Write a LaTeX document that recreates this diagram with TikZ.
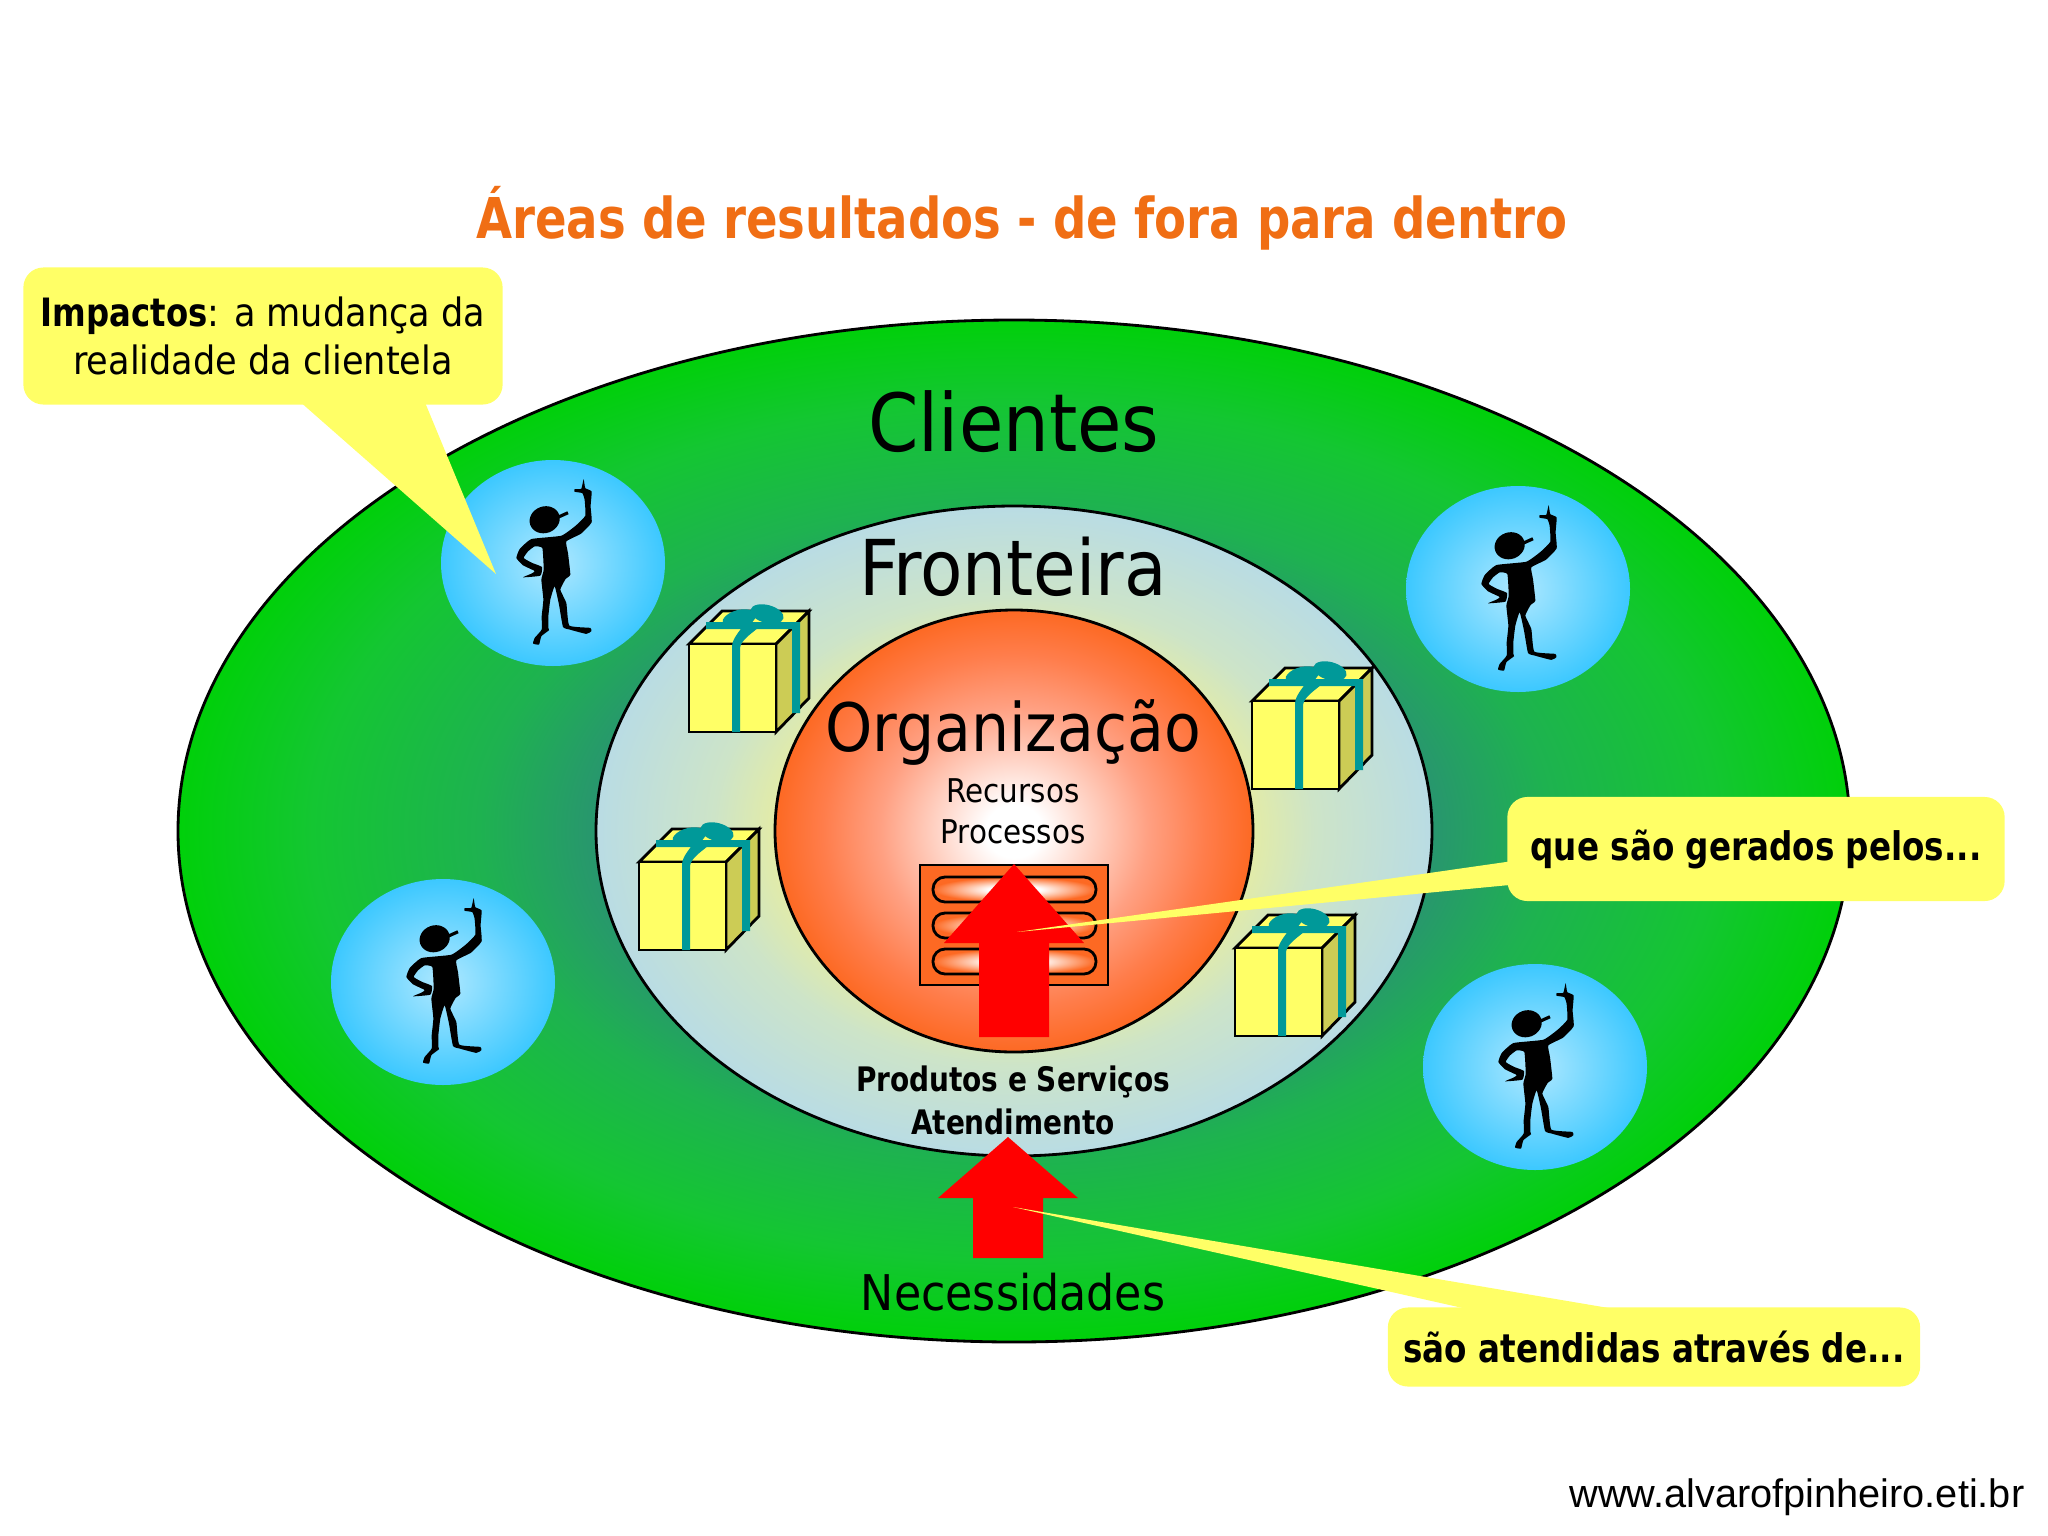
\documentclass[tikz,border=0pt]{standalone}
\usepackage{fontspec}
\setmainfont[BoldFeatures={FakeStretch=0.92}]{DejaVu Sans Condensed}
\newfontfamily\urlfont{Liberation Sans}
\usepackage{xcolor}
\usetikzlibrary{positioning,calc,shapes.geometric}

\definecolor{verdeA}{RGB}{40,150,110}
\definecolor{verdeB}{RGB}{30,178,80}
\definecolor{verdeC}{RGB}{20,198,50}
\definecolor{verdeD}{RGB}{0,208,10}
\definecolor{claroA}{RGB}{255,250,170}
\definecolor{claroB}{RGB}{228,236,165}
\definecolor{claroC}{RGB}{205,228,200}
\definecolor{claroD}{RGB}{185,220,228}
\definecolor{laranja}{RGB}{253,105,35}
\definecolor{laranjaB}{RGB}{255,125,75}
\definecolor{salmao}{RGB}{255,160,130}
\definecolor{azulA}{RGB}{175,232,255}
\definecolor{azulB}{RGB}{60,200,255}
\definecolor{amarelo}{RGB}{255,255,102}
\definecolor{lateral}{RGB}{204,204,85}
\definecolor{fita}{RGB}{0,153,153}
\definecolor{titulo}{RGB}{240,110,20}

\pgfdeclareradialshading{campo}{\pgfpoint{0bp}{0bp}}{color(0bp)=(verdeA); color(12.5bp)=(verdeA); color(16bp)=(verdeB); color(21bp)=(verdeC); color(25bp)=(verdeD); color(50bp)=(verdeD)}
\pgfdeclareradialshading{borda}{\pgfpoint{0bp}{0bp}}{color(0bp)=(claroA); color(14bp)=(claroB); color(18bp)=(claroC); color(25bp)=(claroD); color(50bp)=(claroD)}
\pgfdeclareradialshading{brasa}{\pgfpoint{0bp}{0bp}}{color(0bp)=(white); color(3bp)=(white); color(14bp)=(salmao); color(20bp)=(laranjaB); color(25bp)=(laranja); color(50bp)=(laranja)}
\pgfdeclareradialshading{faixa}{\pgfpoint{0bp}{0bp}}{color(0bp)=(white); color(8bp)=(white); color(25bp)=(laranja); color(50bp)=(laranja)}
\pgfdeclareradialshading{bolha}{\pgfpoint{0bp}{0bp}}{color(0bp)=(azulA); color(25bp)=(azulB); color(50bp)=(azulB)}

\begin{document}
\begin{tikzpicture}[x=0.01cm, y=-0.01cm,
	campoTxt/.style={font=\fontsize{22.8}{27}\selectfont, inner sep=0pt},
	subTxt/.style={font=\fontsize{9.3}{12}\selectfont, inner sep=0pt},
	negTxt/.style={font=\fontsize{9.6}{12}\selectfont\bfseries, inner sep=0pt},
	balao/.style={fill=amarelo, rounded corners=0.2cm, inner sep=0pt, align=center, font=\fontsize{11.1}{13.7}\selectfont},
	seta/.style={fill=red}]
	\useasboundingbox (0,0) rectangle (2048,1536);
	
	% Elipses
	\path[draw=black, thick, shading=campo] (1014,831) ellipse (836 and 511);
	\path[draw=black, thick, shading=borda] (1014,831) ellipse (418 and 325);
	\path[draw=black, thick, shading=brasa] (1014,831) ellipse (239 and 221);
	
	% --- CLIENTES ---
	\foreach \cx/\cy in {553/563, 1518/589, 443/982, 1535/1067} {
		\path[shading=bolha] (\cx,\cy) ellipse (112 and 103);
		\begin{scope}[shift={(\cx,\cy)}, x=0.00333cm, y=-0.00333cm, shift={(-400,-340)}]
			\fill[rotate around={20:(375,210)}] (375,210) ellipse (46 and 40);
			\draw[line width=0.9pt] (405,207) -- (445,189);
			\fill plot[smooth cycle, tension=0.25] coordinates {
				(492,88) (497,115) (516,125) (513,170) (516,218) (484,252) (440,275)
				(445,310) (452,375) (438,388) (422,420) (440,460) (449,528) (512,535)
				(515,545) (500,553) (450,540) (430,532) (418,465) (405,410) (392,450)
				(386,500) (386,535) (388,542) (365,560) (358,585) (340,582) (345,565)
				(366,540) (366,500) (371,450) (365,390) (372,360) (368,295) (345,290)
				(325,305) (312,325) (338,340) (367,352) (362,378) (310,383) (335,372)
				(345,364) (310,347) (290,325) (300,298) (335,268) (425,258) (468,228)
				(497,198) (495,150) (488,130) (465,126) (465,118) (485,117)};
		\end{scope}
	}
	
	% --- PRESENTES ---
	\foreach \gx/\gy in {689/644, 1252/701, 639/862, 1235/948} {
		\begin{scope}[shift={(\gx,\gy)}]
			\draw[fill=amarelo, thick, line join=miter] (0,0) -- (33,-33) -- (120,-33) -- (87,0) -- cycle;
			\draw[fill=lateral, thick] (87,0) -- (120,-33) -- (120,54) -- (87,88) -- cycle;
			\draw[fill=amarelo, thick] (0,0) rectangle (87,88);
			\fill[fita] (43,88) -- (43,3) .. controls (43,-6) and (52,-14) .. (58,-24) -- (70,-17) .. controls (62,-10) and (52,-4) .. (51,4) -- (51,88) -- cycle;
			\fill[fita] (17,-22) -- (111,-22) -- (111,69) -- (103,69) -- (103,-15) -- (17,-15) -- cycle;
			\fill[fita, rotate around={15:(50,-25)}] (50,-25) ellipse (17 and 9);
			\fill[fita, rotate around={-15:(78,-30)}] (78,-30) ellipse (17 and 9);
		\end{scope}
	}
	
	% Processos
	\draw[fill=laranja, thick] (920,865) rectangle (1108,985);
	\foreach \py in {877,913,949} {
		\path[draw=black, thick, rounded corners=0.12cm, shading=faixa] (933,\py) rectangle ++(163,25);
	}
	
	% --- SETAS ---
	\fill[seta] (1014,864) -- (1084,943) -- (1049,943) -- (1049,1037) -- (979,1037) -- (979,943) -- (944,943) -- cycle;
	\fill[seta] (1008,1137) -- (1078,1198) -- (1043,1198) -- (1043,1258) -- (973,1258) -- (973,1198) -- (938,1198) -- cycle;
	
	% Textos
	\node[font=\fontsize{16}{19}\selectfont\bfseries, text=titulo, inner sep=0pt] (tituloA) at (1022,218) {Áreas de resultados - de fora para dentro};
	\node[campoTxt] (clientesA) at (1014,422) {Clientes};
	\node[campoTxt, font=\fontsize{21.9}{26}\selectfont] (fronteiraA) at (1013,567) {Fronteira};
	\node[campoTxt, font=\fontsize{19}{23}\selectfont] (organizacaoA) at (1013,732) {Organização};
	\node[subTxt] (recursosA) at (1013,791) {Recursos};
	\node[subTxt] (processosA) at (1013,832) {Processos};
	\node[negTxt] (produtosA) at (1013,1082) {Produtos e Serviços};
	\node[negTxt] (atendimentoA) at (1013,1122) {Atendimento};
	\node[campoTxt, font=\fontsize{14}{17}\selectfont] (necessidadesA) at (1013,1292) {Necessidades};
	
	% --- BALOES ---
	\fill[amarelo] (298,400) -- (496,574) -- (424,400) -- cycle;
	\node[balao, minimum width=4.79cm, minimum height=1.37cm] (impactosA) at (263,336) {\textbf{Impactos}: a mudança da\\realidade da clientela};
	\fill[amarelo] (1520,860) -- (1017,932) -- (1520,884) -- cycle;
	\node[balao, minimum width=4.97cm, minimum height=1.04cm, font=\fontsize{11.2}{15}\selectfont\bfseries] (geradosA) at (1756,849) {que são gerados pelos...};
	\fill[amarelo] (1650,1315) -- (1013,1207) -- (1494,1315) -- cycle;
	\node[balao, minimum width=5.32cm, minimum height=0.79cm, font=\fontsize{11.2}{15}\selectfont\bfseries] (atendidasA) at (1654,1347) {são atendidas através de...};
	
	\node[font=\fontsize{11.3}{14}\urlfont, anchor=east, inner sep=0pt] (siteA) at (2025,1497) {www.alvarofpinheiro.eti.br};
\end{tikzpicture}
\end{document}
